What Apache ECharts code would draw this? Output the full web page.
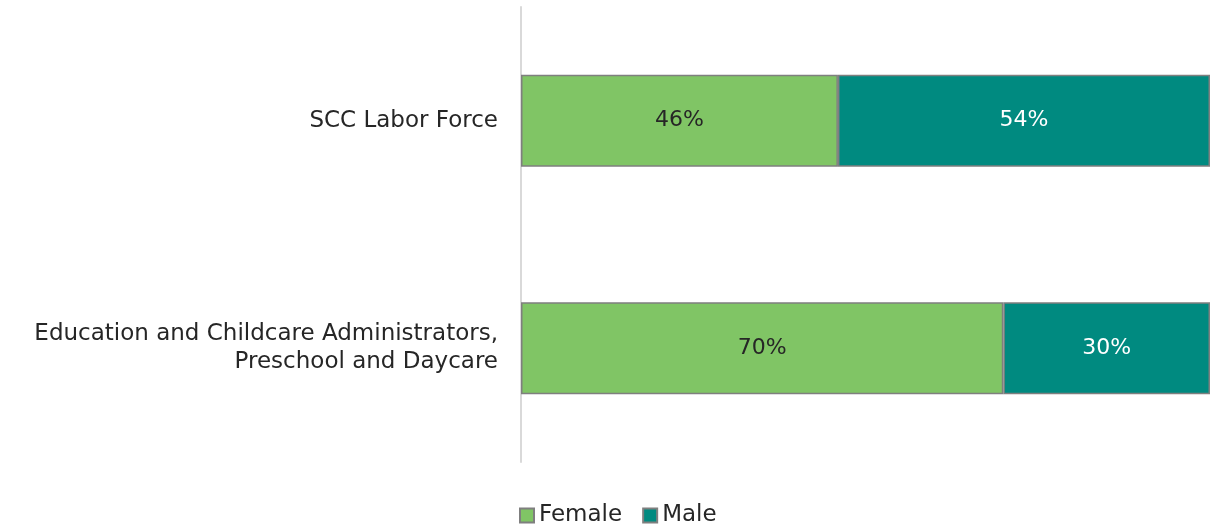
<!DOCTYPE html>
<html>
<head>
<meta charset="utf-8">
<script src="https://cdn.jsdelivr.net/npm/echarts@6/dist/echarts.min.js"></script>
<style>
html,body{margin:0;padding:0;background:#fff;}
#chart{width:1210px;height:529px;}
</style>
</head>
<body>
<div id="chart"></div>
<script>
var categories = ["SCC Labor Force", "Education and Childcare Administrators,\nPreschool and Daycare"];
var female = [46, 70];
var male = [54, 30];
var seriesNames = ["Female", "Male"];

var chart = echarts.init(document.getElementById('chart'));
var font = "'DejaVu Sans', sans-serif";
chart.setOption({
  animation: false,
  textStyle: {fontFamily: font},
  grid: {left: 521, right: 0, top: 7, bottom: 67, containLabel: false},
  legend: {
    bottom: 2, left: 519, padding: 0,
    itemWidth: 14, itemHeight: 14, itemGap: 20,
    icon: 'rect',
    textStyle: {fontSize: 23, color: '#262626', fontFamily: font},
    data: seriesNames
  },
  xAxis: {
    type: 'value', min: 0, max: 100, show: false
  },
  yAxis: {
    type: 'category', data: categories, inverse: true,
    axisLine: {show: true, lineStyle: {color: '#d9d9d9', width: 2}},
    axisTick: {show: false},
    axisLabel: {fontSize: 23, color: '#262626', margin: 23, lineHeight: 28, align: 'right', fontFamily: font, padding: [3, 0, 0, 0]}
  },
  series: [
    {
      name: seriesNames[0], type: 'bar', stack: 'a', data: female, barWidth: 92,
      itemStyle: {color: '#80C565', borderColor: '#7f7f7f', borderWidth: 1.5},
      label: {show: true, position: 'inside', formatter: '{c}%', fontSize: 22, color: '#262626', fontFamily: font, padding: [3, 0, 0, 0]}
    },
    {
      name: seriesNames[1], type: 'bar', stack: 'a', data: male, barWidth: 92,
      itemStyle: {color: '#008A80', borderColor: '#7f7f7f', borderWidth: 1.5},
      label: {show: true, position: 'inside', formatter: '{c}%', fontSize: 22, color: '#fff', fontFamily: font, padding: [3, 0, 0, 0]}
    }
  ]
});
</script>
</body>
</html>
